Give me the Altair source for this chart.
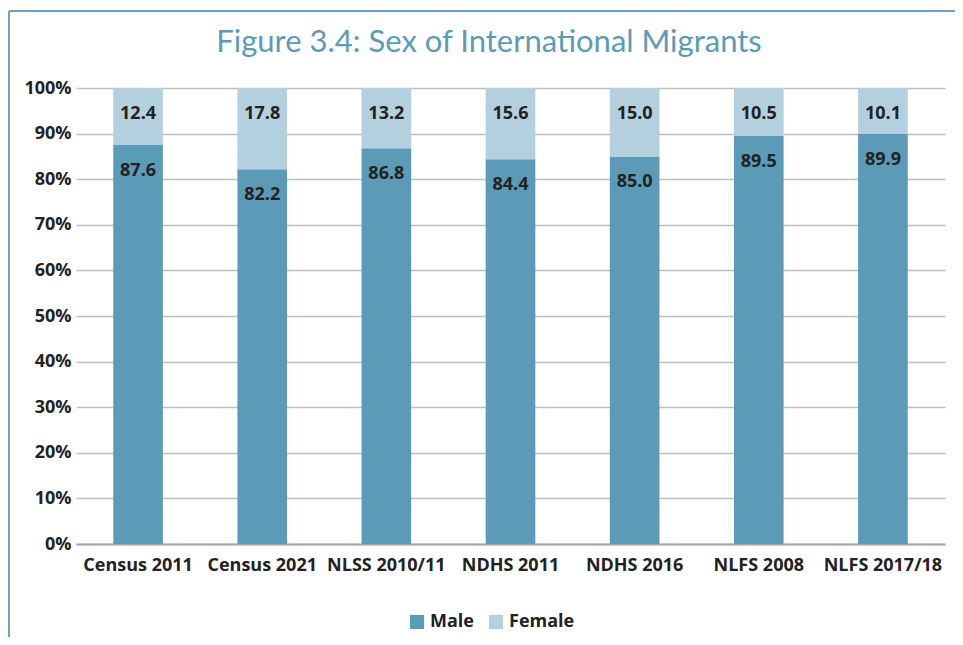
import altair as alt
import pandas as pd

surveys = ["Census 2011", "Census 2021", "NLSS 2010/11", "NDHS 2011", "NDHS 2016", "NLFS 2008", "NLFS 2017/18"]
male = [87.6, 82.2, 86.8, 84.4, 85.0, 89.5, 89.9]
female = [12.4, 17.8, 13.2, 15.6, 15.0, 10.5, 10.1]
sexes = ["Male", "Female"]
colors = ["#5B9BB7", "#B4D0DE"]
y_ticks = [0, 10, 20, 30, 40, 50, 60, 70, 80, 90, 100]
title_text = "Figure 3.4: Sex of International Migrants"

rows = []
for s, m, f in zip(surveys, male, female):
    rows.append({"survey": s, "sex": "Male", "value": m, "ord": 0})
    rows.append({"survey": s, "sex": "Female", "value": f, "ord": 1})
df = pd.DataFrame(rows)

FONT = "Open Sans"

base = alt.Chart(df).transform_stack(
    stack="value", as_=["y0", "y1"], groupby=["survey"], sort=[alt.SortField("ord")]
)

xenc = alt.X("survey:N", sort=surveys, title=None,
             scale=alt.Scale(paddingInner=0.6, paddingOuter=0.3),
             axis=alt.Axis(labelAngle=0, labelFont=FONT, labelFontWeight="bold",
                           labelFontSize=18, labelColor="#222222", labelPadding=12,
                           ticks=False, domainColor="#A6A6A6", domainWidth=2))

bars = base.mark_bar().encode(
    x=xenc,
    y=alt.Y("y0:Q", scale=alt.Scale(domain=[0, 100]), title=None,
            axis=alt.Axis(values=y_ticks, labelExpr="datum.value + '%'",
                          labelFont=FONT, labelFontWeight="bold", labelFontSize=18,
                          labelColor="#222222", ticks=False, domain=False,
                          grid=True, gridColor="#BFBFBF", gridWidth=1.5, labelPadding=5)),
    y2="y1:Q",
    color=alt.Color("sex:N", scale=alt.Scale(domain=sexes, range=colors),
                    legend=alt.Legend(title=None, orient="none", direction="horizontal",
                                      legendX=332, legendY=525, symbolType="square",
                                      symbolSize=200, symbolStrokeWidth=0,
                                      labelFont=FONT, labelFontWeight="bold",
                                      labelFontSize=18, labelColor="#222222",
                                      columnPadding=13, symbolOpacity=1)),
)

labels = base.mark_text(font=FONT, fontWeight="bold", fontSize=18, color="#222222",
                        baseline="middle", dy=26).encode(
    x=alt.X("survey:N", sort=surveys),
    y=alt.Y("y1:Q"),
    text=alt.Text("value:Q", format=".1f"),
)

frame_df = pd.DataFrame({"t": [title_text]})
top_line = alt.Chart(frame_df).mark_rule(color="#6BA3BF", strokeWidth=2).encode(
    x=alt.value(-67), x2=alt.value(879), y=alt.value(-77))
left_line = alt.Chart(frame_df).mark_rule(color="#6BA3BF", strokeWidth=2).encode(
    x=alt.value(-67), y=alt.value(-77), y2=alt.value(560))
title = alt.Chart(frame_df).mark_text(font="Lato", fontSize=31, color="#5B9BB7",
                                      align="center", baseline="middle").encode(
    x=alt.value(413), y=alt.value(-45), text="t:N")

chart = alt.layer(bars, labels, top_line, left_line, title).properties(
    width=869, height=456,
    autosize=alt.AutoSizeParams(type="none"),
    padding={"left": 68, "top": 80, "right": 10, "bottom": 93},
).configure_view(stroke=None)

chart.save("out.html", embed_options={"renderer": "svg", "actions": False})
